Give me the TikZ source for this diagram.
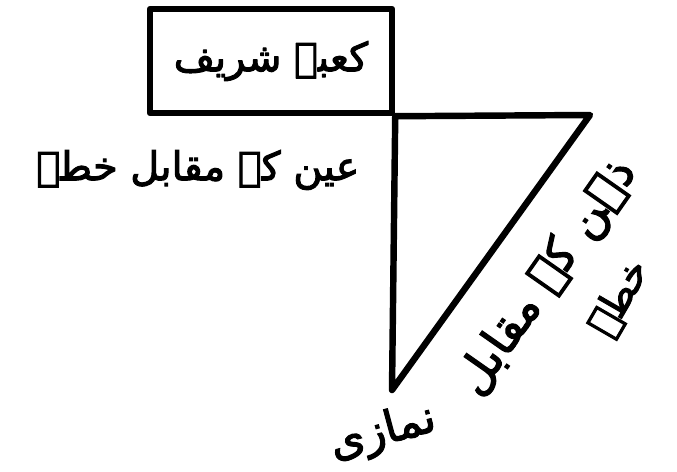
\documentclass[tikz,border=0pt]{standalone}
\usepackage{fontspec}
\newfontfamily\urdufont[Script=Arabic,FakeBold=2.5]{DejaVu Sans}
\TeXXeTstate=1

\begin{document}
\begin{tikzpicture}[x=0.3mm,y=-0.3mm,
  wall/.style={line width=5.5pt, line join=round},
  urdu/.style={font=\urdufont\fontsize{34}{40}\selectfont, inner sep=0pt}]
\useasboundingbox (0,0) rectangle (677,472);

% Kaaba box
\node[wall, draw, urdu, minimum width=72.6mm, minimum height=31.2mm] (kaaba) at (271,61) {\beginR کعبہ شریف\endR};

% Triangle corners
\coordinate (corner) at (kaaba.south east);
\coordinate (tip) at (590,115);
\coordinate (foot) at (392,390);
\draw[wall] (corner) -- (tip) -- (foot) -- cycle;

% Labels
\node[urdu] (ain) at (198,170) {\beginR عین کے مقابل خطہ\endR};
\node[urdu, rotate=55, font=\urdufont\fontsize{40}{46}\selectfont] (zehn) at (548,278) {\beginR ذہن کے مقابل\endR};
\node[urdu, rotate=60] (khatta) at (620,298) {\beginR خطہ\endR};
\node[urdu, rotate=15, font=\urdufont\fontsize{38}{44}\selectfont] (namazi) at (383,433) {\beginR نمازی\endR};

\end{tikzpicture}
\end{document}
